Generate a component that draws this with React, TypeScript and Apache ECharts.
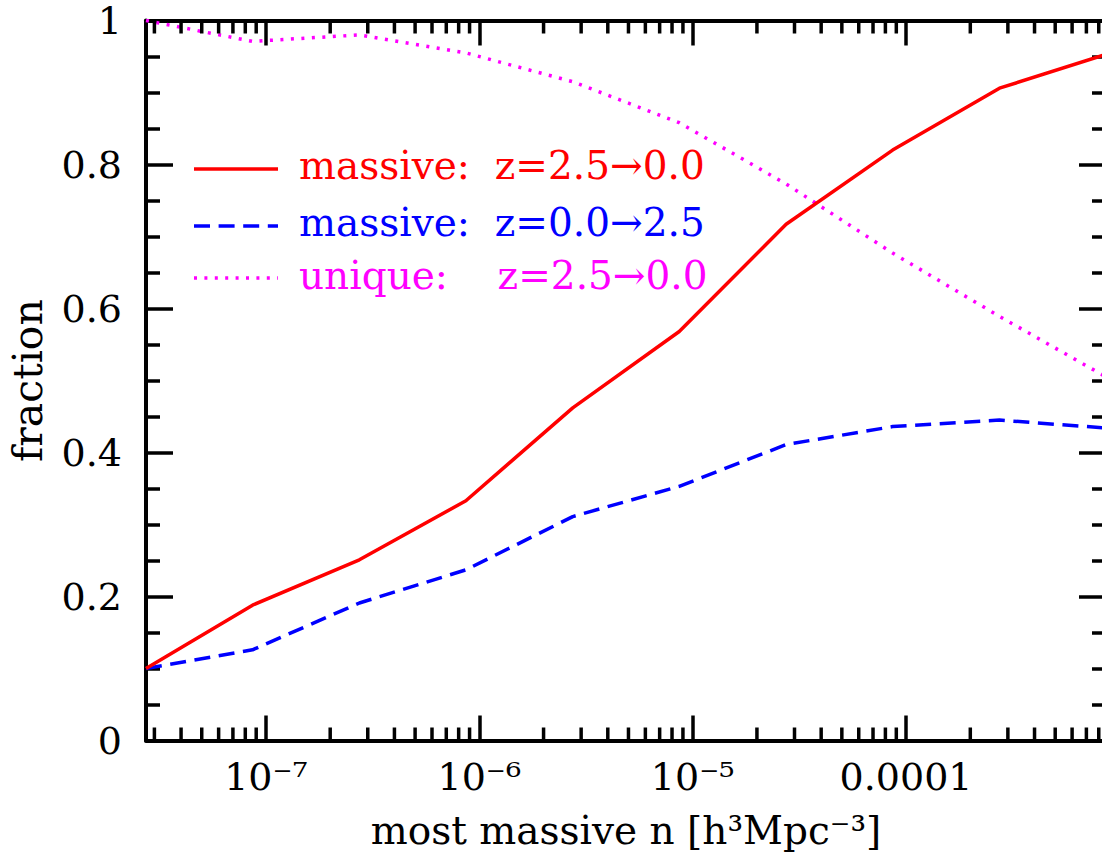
import React, { useEffect, useRef } from "react";
import * as echarts from "echarts";

// number density of the most massive haloes [h^3 Mpc^-3]
const densities = [2.74e-8, 8.65e-8, 2.74e-7, 8.65e-7, 2.74e-6, 8.65e-6, 2.74e-5, 8.65e-5, 2.74e-4, 8.65e-4];
const massiveForward = [0.100, 0.188, 0.251, 0.333, 0.462, 0.568, 0.717, 0.820, 0.906, 0.953];
const massiveBackward = [0.100, 0.126, 0.191, 0.237, 0.311, 0.353, 0.411, 0.436, 0.445, 0.434];
const uniqueForward = [1.000, 0.971, 0.980, 0.955, 0.915, 0.858, 0.773, 0.677, 0.589, 0.505];

const seriesNames = [
  "massive:\u00a0\u00a0z=2.5→0.0",
  "massive:\u00a0\u00a0z=0.0→2.5",
  "unique:\u00a0\u00a0\u00a0\u00a0z=2.5→0.0",
];
const seriesColors = ["#ff0000", "#0000ff", "#ff00ff"];

const xTickExponents = [-7, -6, -5, -4];
const xTickLabels = ["10⁻⁷", "10⁻⁶", "10⁻⁵", "0.0001"];
const yTickValues = [0, 0.2, 0.4, 0.6, 0.8, 1];
const yTickLabels = ["0", "0.2", "0.4", "0.6", "0.8", "1"];
const xAxisTitle = "most massive n [h³Mpc⁻³]";
const yAxisTitle = "fraction";

const xMin = 2.74e-8;
const xMax = 8.65e-4;

// logarithmic minor tick positions (2..9 x 10^e)
const minorTickValues: number[] = [];
for (let e = -8; e <= -4; e++) {
  for (let k = 2; k <= 9; k++) {
    const v = k * Math.pow(10, e);
    if (v > xMin && v < xMax) minorTickValues.push(v);
  }
}

const FONT = "DejaVu Serif";

export default function App() {
  const ref = useRef<HTMLDivElement>(null);

  useEffect(() => {
    if (!ref.current) return;
    const chart = echarts.init(ref.current, undefined, { renderer: "svg" });

    const axisLineStyle = { color: "#000", width: 4 };
    const tickStyle = { color: "#000", width: 3.5 };

    const fmtX = (v: number) => {
      const l = Math.log10(v);
      const e = Math.round(l);
      if (Math.abs(l - e) > 1e-6) return "";
      const i = xTickExponents.indexOf(e);
      return i >= 0 ? xTickLabels[i] : "";
    };
    const fmtY = (v: number) => {
      const i = yTickValues.findIndex((t) => Math.abs(t - v) < 1e-6);
      return i >= 0 ? yTickLabels[i] : "";
    };

    const xAxisCommon = {
      type: "log" as const,
      logBase: 10,
      min: xMin,
      max: xMax,
      axisLine: { show: true, onZero: false, lineStyle: axisLineStyle },
      axisTick: { show: true, inside: true, length: 25, lineStyle: tickStyle },
      minorTick: { show: false },
      splitLine: { show: false },
      minorSplitLine: { show: false },
    };
    const yAxisCommon = {
      type: "value" as const,
      min: 0,
      max: 1,
      interval: 0.2,
      axisLine: { show: true, onZero: false, lineStyle: axisLineStyle },
      axisTick: { show: true, inside: true, length: 27, lineStyle: tickStyle },
      minorTick: { show: true, splitNumber: 4, length: 14, lineStyle: tickStyle },
      splitLine: { show: false },
      minorSplitLine: { show: false },
    };

    const lineData = (ys: number[]) => densities.map((x, i) => [x, ys[i]]);

    chart.setOption({
      animation: false,
      backgroundColor: "#ffffff",
      textStyle: { fontFamily: FONT, color: "#000" },
      grid: { left: 146, top: 20.5, width: 960, height: 720, containLabel: false, outerBoundsMode: "none" },
      xAxis: [
        {
          ...xAxisCommon,
          position: "bottom",
          name: xAxisTitle,
          nameLocation: "middle",
          nameGap: 70,
          nameTextStyle: { fontFamily: FONT, fontSize: 39, color: "#000" },
          axisLabel: {
            show: true,
            formatter: fmtX,
            fontFamily: FONT,
            fontSize: 38,
            color: "#000",
            margin: 17,
            showMinLabel: false,
            showMaxLabel: false,
          },
        },
        {
          ...xAxisCommon,
          position: "top",
          axisLabel: { show: false },
        },
      ],
      yAxis: [
        {
          ...yAxisCommon,
          position: "left",
          name: yAxisTitle,
          nameLocation: "middle",
          nameGap: 98,
          nameTextStyle: { fontFamily: FONT, fontSize: 41, color: "#000" },
          axisLabel: { show: true, formatter: fmtY, fontFamily: FONT, fontSize: 38, color: "#000", margin: 24 },
        },
        {
          ...yAxisCommon,
          position: "right",
          axisLabel: { show: false },
        },
      ],
      series: [
        {
          name: seriesNames[2],
          type: "line",
          data: lineData(uniqueForward),
          symbol: "none",
          showSymbol: false,
          lineStyle: { color: seriesColors[2], width: 3.5, type: [3, 7.5], cap: "butt" },
          itemStyle: { color: seriesColors[2] },
          z: 2,
        },
        {
          name: seriesNames[1],
          type: "line",
          data: lineData(massiveBackward),
          symbol: "none",
          showSymbol: false,
          lineStyle: { color: seriesColors[1], width: 3.5, type: [16, 8.6], cap: "butt" },
          itemStyle: { color: seriesColors[1] },
          z: 3,
        },
        {
          name: seriesNames[0],
          type: "line",
          data: lineData(massiveForward),
          symbol: "none",
          showSymbol: false,
          lineStyle: { color: seriesColors[0], width: 3.5, type: "solid" },
          itemStyle: { color: seriesColors[0] },
          z: 4,
        },
        {
          name: "minor ticks",
          type: "custom",
          silent: true,
          clip: false,
          z: 5,
          data: minorTickValues.map((v) => [v, 0]),
          encode: { x: 0, y: 1 },
          renderItem: (_params: any, api: any) => {
            const v = api.value(0);
            const pb = api.coord([v, 0]);
            const pt = api.coord([v, 1]);
            const st = { stroke: "#000", lineWidth: 3.5 };
            return {
              type: "group",
              children: [
                { type: "line", shape: { x1: pb[0], y1: pb[1], x2: pb[0], y2: pb[1] - 13 }, style: st },
                { type: "line", shape: { x1: pt[0], y1: pt[1], x2: pt[0], y2: pt[1] + 13 }, style: st },
              ],
            };
          },
        },
      ],
      graphic: [
        {
          type: "group",
          children: [
            { type: "line", shape: { x1: 194, y1: 169, x2: 278, y2: 169 }, style: { stroke: seriesColors[0], lineWidth: 3.5 } },
            {
              type: "text",
              x: 299,
              y: 165.5,
              style: { text: seriesNames[0], fill: seriesColors[0], fontFamily: FONT, fontSize: 39, align: "left", verticalAlign: "middle" },
            },
            { type: "line", shape: { x1: 194, y1: 226, x2: 278, y2: 226 }, style: { stroke: seriesColors[1], lineWidth: 3.5, lineDash: [16, 8.6] } },
            {
              type: "text",
              x: 299,
              y: 222,
              style: { text: seriesNames[1], fill: seriesColors[1], fontFamily: FONT, fontSize: 39, align: "left", verticalAlign: "middle" },
            },
            { type: "line", shape: { x1: 194, y1: 278, x2: 278, y2: 278 }, style: { stroke: seriesColors[2], lineWidth: 3.5, lineDash: [3, 7.4] } },
            {
              type: "text",
              x: 299,
              y: 275.5,
              style: { text: seriesNames[2], fill: seriesColors[2], fontFamily: FONT, fontSize: 39, align: "left", verticalAlign: "middle" },
            },
          ],
        },
      ],
    });

    return () => {
      chart.dispose();
    };
  }, []);

  return (
    <div
      ref={ref}
      style={{ position: "fixed", left: 0, top: 0, width: 1102, height: 856, background: "#fff" }}
    />
  );
}
